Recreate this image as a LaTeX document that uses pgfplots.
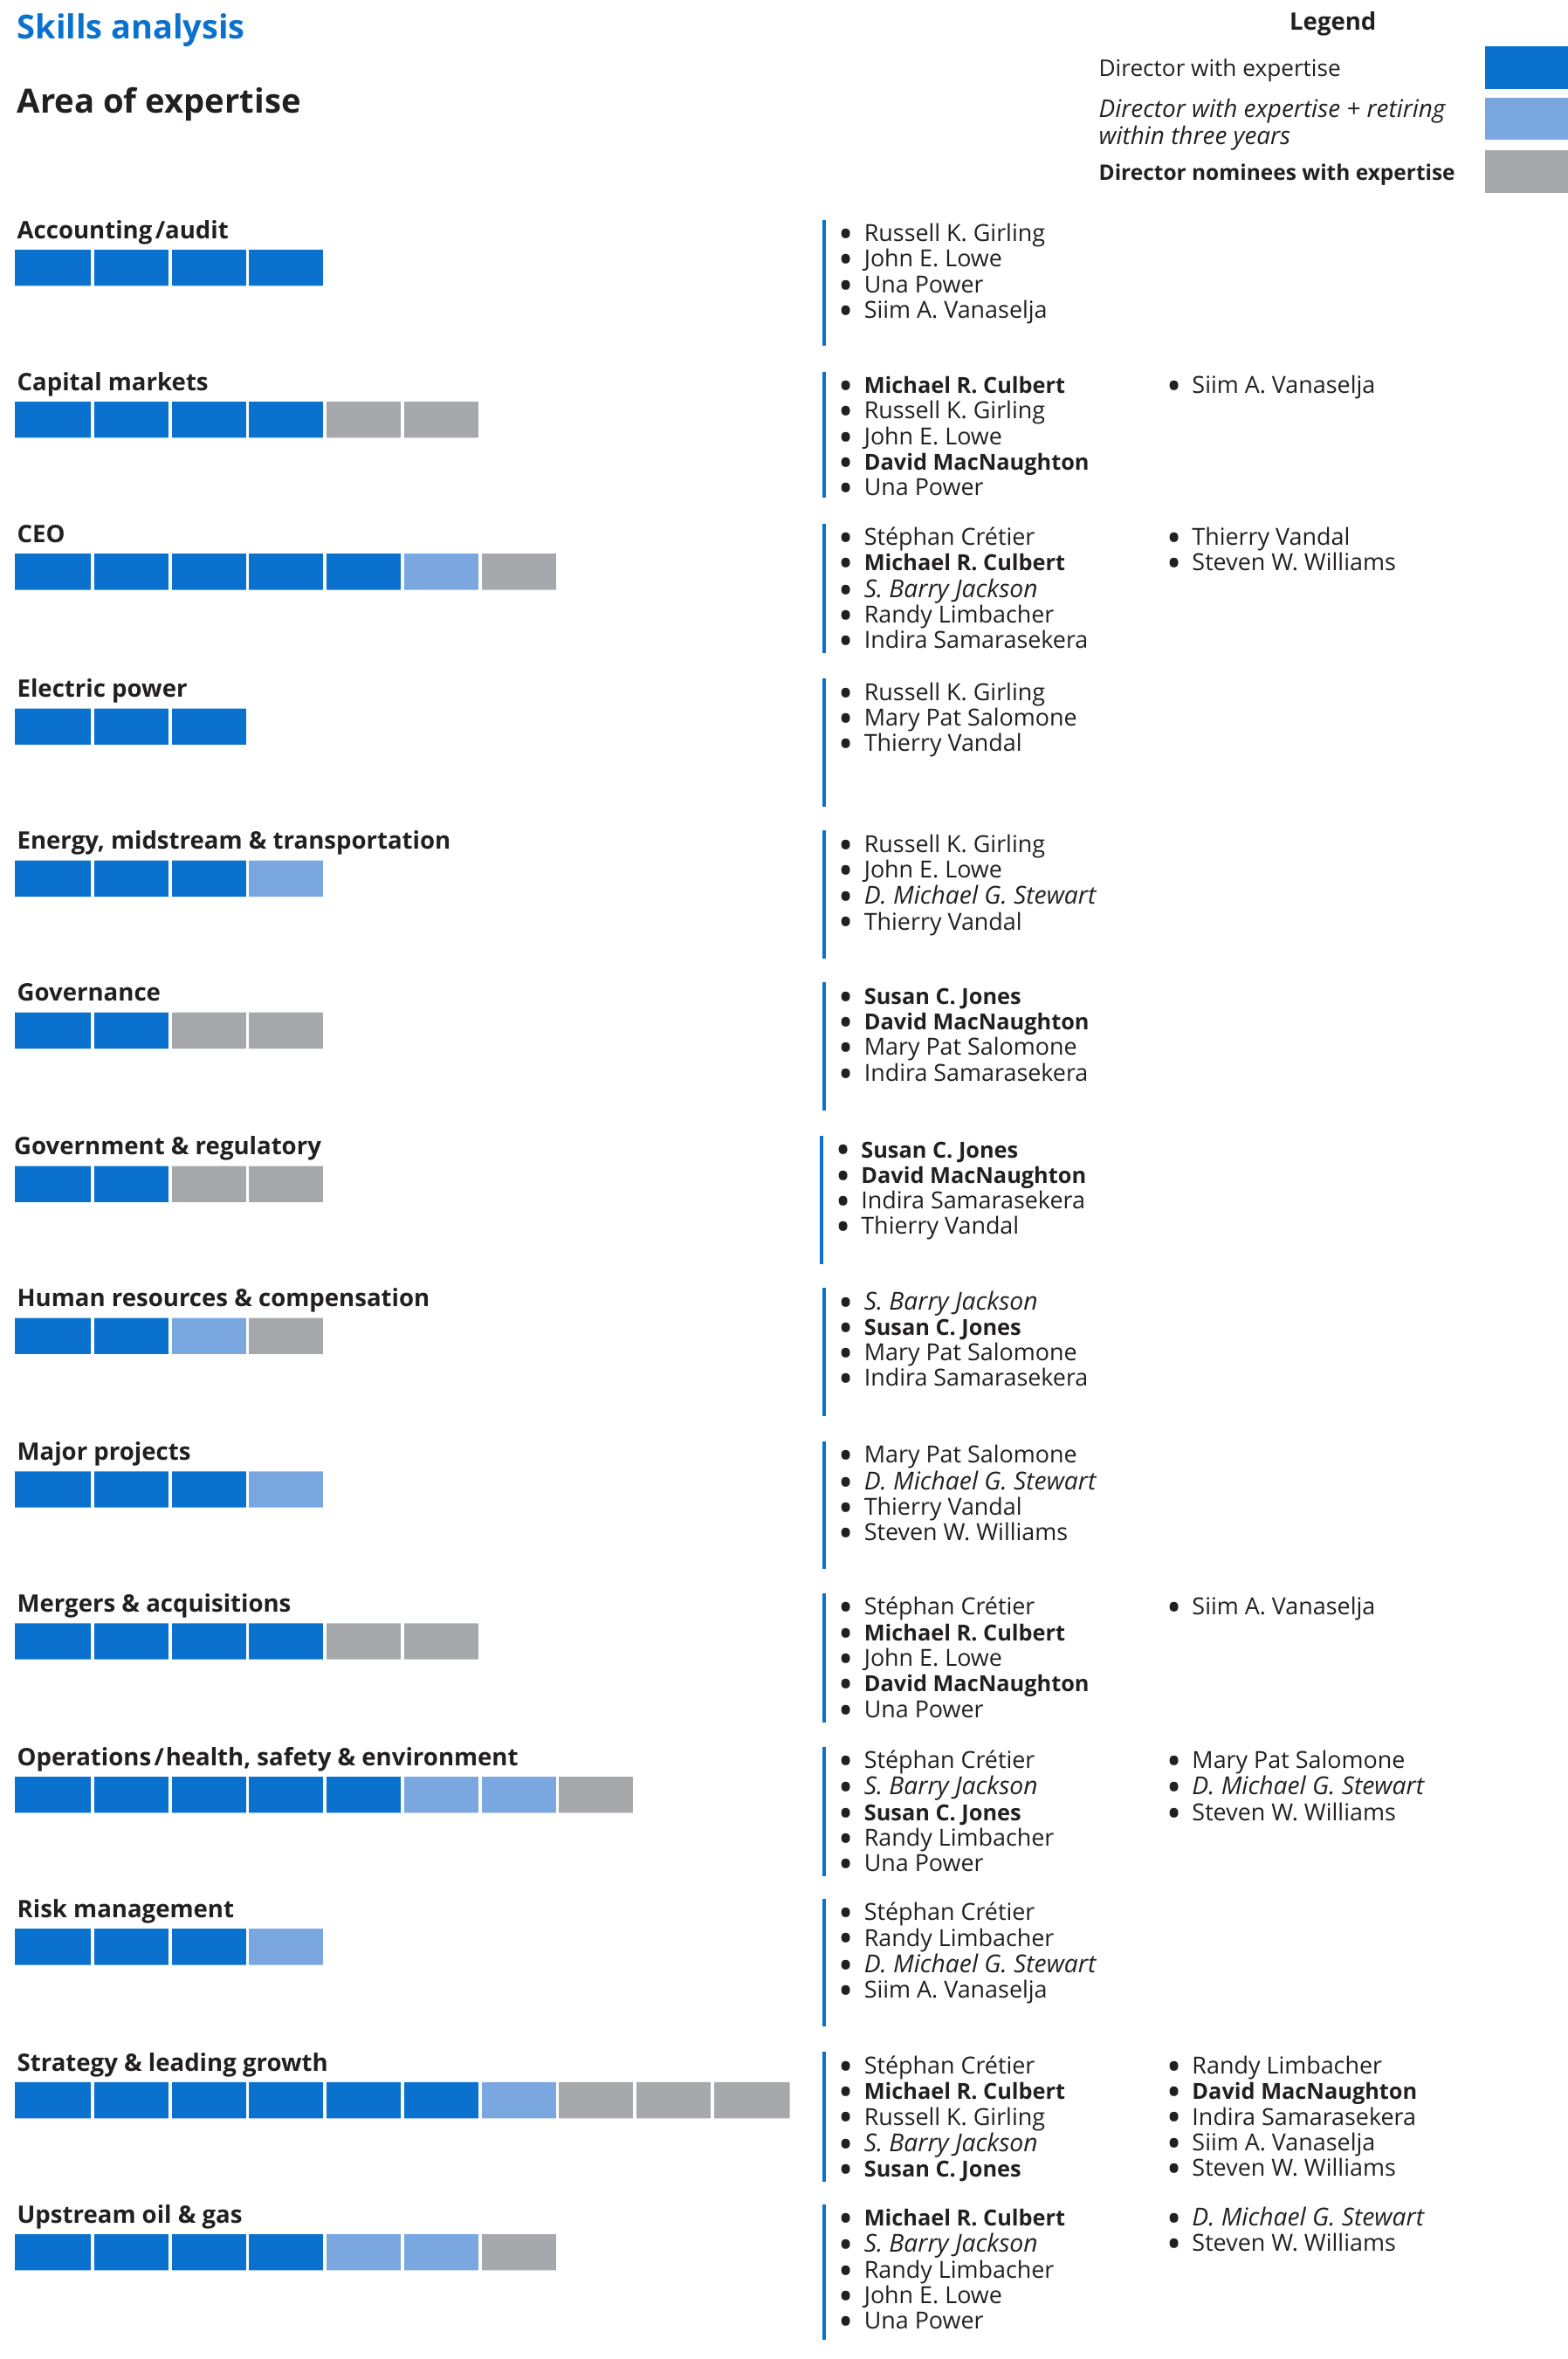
\documentclass[border=0pt]{standalone}
\usepackage{fontspec}
\setmainfont{Open Sans}
\usepackage{graphicx}
\usepackage{pgfplots}
\usepackage{pgfplotstable}
\pgfplotsset{compat=1.18}
\definecolor{dkb}{HTML}{0A72CE}
\definecolor{ltb}{HTML}{7AA7E0}
\definecolor{gry}{HTML}{A7A8AB}
\definecolor{txt}{HTML}{231F20}

% bar rows: y = bar centre (px), counts of directors
\pgfplotstableread{
y dark light grey
178 4 0 0
279 4 0 2
380 5 1 1
483 3 0 0
584 3 1 0
685 2 0 2
787 2 0 2
888 2 1 1
990 3 1 0
1091 4 0 2
1193 5 2 1
1294 3 1 0
1396 6 1 3
1497 4 2 1
}\skills

\newcommand\nf{\fontsize{7.8}{8.5}\selectfont}
\newcommand\B{\makebox[8.5pt][l]{\raisebox{-2.3pt}{\scalebox{1.7}{•}}}}
\newcommand\bn[1]{{\fontsize{7.35}{8.5}\selectfont\bfseries #1}}
\newcommand\ii[1]{{\fontsize{8.2}{8.5}\selectfont\itshape #1}}
\tikzset{
  lab/.style={anchor=base west, inner sep=0pt, text=txt, font=\fontsize{8}{9.6}\selectfont\bfseries},
  nm/.style={anchor=base west, inner sep=0pt, text=txt, font=\nf},
}
\pgfplotsset{blueline/.style={draw=dkb, line width=1.1pt, mark=none, forget plot},
  sep/.style={draw=white, line width=1.1pt, mark=none, forget plot}}
% #1 Ly, #2 dx, #3 label, #4 col1, #5 col2, #6 line x, #7 top, #8 bottom
\newcommand\blk[8]{%
  \node[lab] at (axis cs:{11+#2},{#1+6.5}) {#3};
  \addplot[blueline] coordinates {(#6,#7) (#6,#8)};
  \node[nm] at (axis cs:{557+#2},{#1+8.5}) {\begin{tabular}[t]{@{}l@{}}#4\end{tabular}};
  \node[nm] at (axis cs:{775+#2},{#1+8.5}) {\begin{tabular}[t]{@{}l@{}}#5\end{tabular}};
}

\begin{document}
\begin{tikzpicture}
\path[use as bounding box] (0,0) rectangle (521pt,784pt);
\pgfplotsset{base/.style={width=521pt,height=784pt,scale only axis,
  xmin=0,xmax=1042,ymin=0,ymax=1568,y dir=reverse,at={(0,0)},anchor=south west}}
\begin{axis}[base, xbar stacked, bar width=24, hide axis]
\addplot[draw=none, fill=none] table[x expr=10, y=y]{\skills};
\addplot[draw=none, fill=dkb] table[x expr=\thisrow{dark}*51.5, y=y]{\skills};
\addplot[draw=none, fill=ltb] table[x expr=\thisrow{light}*51.5, y=y]{\skills};
\addplot[draw=none, fill=gry] table[x expr=\thisrow{grey}*51.5, y=y]{\skills};
\end{axis}

\begin{axis}[base, hide axis, clip=false]
% white separators between the unit blocks of the bars (drawn before all text)
\addplot[sep] coordinates {(61.5,160) (61.5,1515)};
\addplot[sep] coordinates {(113,160) (113,1515)};
\addplot[sep] coordinates {(164.5,160) (164.5,1515)};
\addplot[sep] coordinates {(216,160) (216,1515)};
\addplot[sep] coordinates {(267.5,160) (267.5,1515)};
\addplot[sep] coordinates {(319,160) (319,1515)};
\addplot[sep] coordinates {(370.5,160) (370.5,1515)};
\addplot[sep] coordinates {(422,160) (422,1515)};
\addplot[sep] coordinates {(473.5,160) (473.5,1515)};
% titles
\node[anchor=base west, inner sep=0pt, text=dkb, font=\fontsize{11.0}{13}\selectfont\bfseries] at (axis cs:11,26) {Skills analysis};
\node[anchor=base west, inner sep=0pt, text=txt, font=\fontsize{11.1}{13}\selectfont\bfseries] at (axis cs:11,75) {Area of expertise};
% legend
\node[anchor=base, inner sep=0pt, text=txt, font=\fontsize{8}{9.6}\selectfont\bfseries] at (axis cs:886,20) {Legend};
\node[nm, font=\fontsize{7.6}{9}\selectfont] at (axis cs:730,51) {Director with expertise};
\node[nm, font=\fontsize{8.1}{9}\selectfont\itshape] at (axis cs:730,78) {\begin{tabular}[t]{@{}l@{}}Director with expertise + retiring\\ within three years\end{tabular}};
\node[nm, font=\fontsize{7.1}{9}\selectfont\bfseries] at (axis cs:730,120) {Director nominees with expertise};
\addplot[draw=none, fill=dkb, forget plot] coordinates {(987,31) (1042,31) (1042,59) (987,59)} -- cycle;
\addplot[draw=none, fill=ltb, forget plot] coordinates {(987,65) (1042,65) (1042,93) (987,93)} -- cycle;
\addplot[draw=none, fill=gry, forget plot] coordinates {(987,100) (1042,100) (1042,128) (987,128)} -- cycle;

\blk{152}{0}{Accounting\kern1pt/audit}
 {\B Russell K. Girling\\ \B John E. Lowe\\ \B Una Power\\ \B Siim A. Vanaselja}{}{548}{146}{230}
\blk{253}{0}{Capital markets}
 {\B\bn{Michael R. Culbert}\\ \B Russell K. Girling\\ \B John E. Lowe\\ \B\bn{David MacNaughton}\\ \B Una Power}
 {\B Siim A. Vanaselja}{548}{247}{331}
\blk{354}{0}{CEO}
 {\B Stéphan Crétier\\ \B\bn{Michael R. Culbert}\\ \B\ii{S. Barry Jackson}\\ \B Randy Limbacher\\ \B Indira Samarasekera}
 {\B Thierry Vandal\\ \B Steven W. Williams}{548}{348}{434}
\blk{457}{0}{Electric power}
 {\B Russell K. Girling\\ \B Mary Pat Salomone\\ \B Thierry Vandal}{}{548}{451}{536}
\blk{558}{0}{Energy, midstream \& transportation}
 {\B Russell K. Girling\\ \B John E. Lowe\\ \B\ii{D. Michael G. Stewart}\\ \B Thierry Vandal}{}{548}{552}{637}
\blk{659}{0}{Governance}
 {\B\bn{Susan C. Jones}\\ \B\bn{David MacNaughton}\\ \B Mary Pat Salomone\\ \B Indira Samarasekera}{}{548}{653}{738}
\blk{761}{-2}{Government \& regulatory}
 {\B\bn{Susan C. Jones}\\ \B\bn{David MacNaughton}\\ \B Indira Samarasekera\\ \B Thierry Vandal}{}{546}{755}{840}
\blk{862}{0}{Human resources \& compensation}
 {\B\ii{S. Barry Jackson}\\ \B\bn{Susan C. Jones}\\ \B Mary Pat Salomone\\ \B Indira Samarasekera}{}{548}{856}{941}
\blk{964}{0}{Major projects}
 {\B Mary Pat Salomone\\ \B\ii{D. Michael G. Stewart}\\ \B Thierry Vandal\\ \B Steven W. Williams}{}{548}{958}{1043}
\blk{1065}{0}{Mergers \& acquisitions}
 {\B Stéphan Crétier\\ \B\bn{Michael R. Culbert}\\ \B John E. Lowe\\ \B\bn{David MacNaughton}\\ \B Una Power}
 {\B Siim A. Vanaselja}{548}{1059}{1145}
\blk{1167}{0}{Operations\kern1pt/\kern0.5pt health, safety \& environment}
 {\B Stéphan Crétier\\ \B\ii{S. Barry Jackson}\\ \B\bn{Susan C. Jones}\\ \B Randy Limbacher\\ \B Una Power}
 {\B Mary Pat Salomone\\ \B\ii{D. Michael G. Stewart}\\ \B Steven W. Williams}{548}{1161}{1247}
\blk{1268}{0}{Risk management}
 {\B Stéphan Crétier\\ \B Randy Limbacher\\ \B\ii{D. Michael G. Stewart}\\ \B Siim A. Vanaselja}{}{548}{1262}{1347}
\blk{1370}{0}{Strategy \& leading growth}
 {\B Stéphan Crétier\\ \B\bn{Michael R. Culbert}\\ \B Russell K. Girling\\ \B\ii{S. Barry Jackson}\\ \B\bn{Susan C. Jones}}
 {\B Randy Limbacher\\ \B\bn{David MacNaughton}\\ \B Indira Samarasekera\\ \B Siim A. Vanaselja\\ \B Steven W. Williams}{548}{1364}{1450}
\blk{1471}{0}{Upstream oil \& gas}
 {\B\bn{Michael R. Culbert}\\ \B\ii{S. Barry Jackson}\\ \B Randy Limbacher\\ \B John E. Lowe\\ \B Una Power}
 {\B\ii{D. Michael G. Stewart}\\ \B Steven W. Williams}{548}{1465}{1555}
\end{axis}
\end{tikzpicture}
\end{document}
